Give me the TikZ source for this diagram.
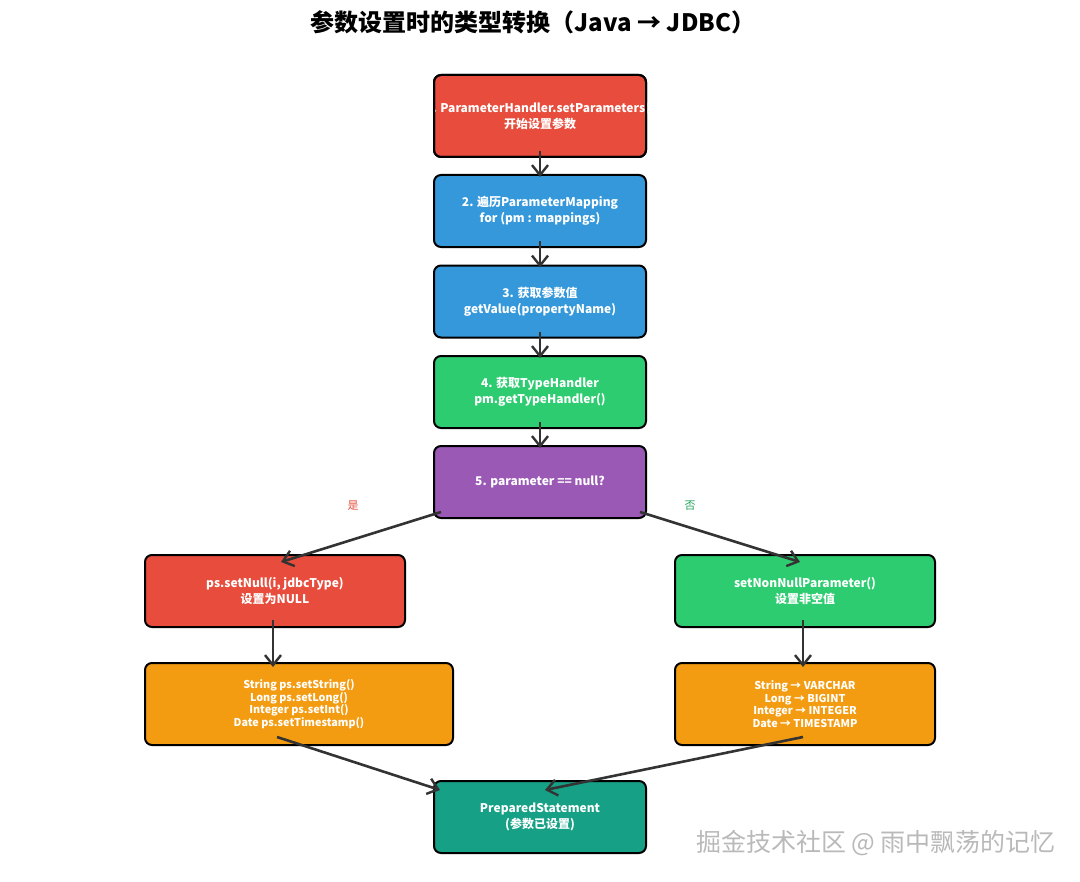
\documentclass[tikz,border=0pt]{standalone}
\usepackage{fontspec}
\setmainfont{Noto Sans CJK SC}
\usetikzlibrary{arrows.meta}
\definecolor{cred}{HTML}{E74C3C}
\definecolor{cblue}{HTML}{3498DB}
\definecolor{cgreen}{HTML}{2ECC71}
\definecolor{cpurple}{HTML}{9B59B6}
\definecolor{corange}{HTML}{F39C12}
\definecolor{cteal}{HTML}{16A085}
\definecolor{cline}{HTML}{333333}
\begin{document}
\begin{tikzpicture}[x=0.5pt,y=-0.5pt,
  box/.style={draw=black,line width=1pt,rounded corners=3.5pt,text=white,align=center,inner sep=0pt,outer sep=0pt,
    minimum width=106pt,minimum height=36pt,font=\fontsize{6}{8}\selectfont\bfseries},
  small/.style={font=\fontsize{5.4}{6.4}\selectfont\bfseries},
  flow/.style={-{Straight Barb[length=5pt,width=8pt,line width=1.2pt]},draw=cline,line width=1.3pt},
  yesno/.style={font=\fontsize{5.5}{6}\selectfont}]
\useasboundingbox (0,0) rectangle (1080,882);
\node[font=\fontsize{12}{14}\selectfont\bfseries] (title) at (533,22) {参数设置时的类型转换（Java → JDBC）};
% main column
\node[box,fill=cred,minimum height=41pt] (start) at (540,116) {\makebox[0pt]{1. ParameterHandler.setParameters()}\\开始设置参数};
\draw[line width=1pt,rounded corners=3.5pt] (start.south west) rectangle (start.north east);
\node[box,fill=cblue] (loop) at (540,211) {2. 遍历ParameterMapping\\for (pm : mappings)};
\node[box,fill=cblue] (value) at (540,301.5) {3. 获取参数值\\getValue(propertyName)};
\node[box,fill=cgreen] (handler) at (540,392) {4. 获取TypeHandler\\pm.getTypeHandler()};
\node[box,fill=cpurple] (check) at (540,482) {5. parameter == null?};
% branches
\node[box,fill=cred,minimum width=130pt] (setnull) at (275,591) {ps.setNull(i, jdbcType)\\设置为NULL};
\node[box,fill=cgreen,minimum width=130pt] (nonnull) at (805,591) {setNonNullParameter()\\设置非空值};
\node[box,small,fill=corange,minimum width=154pt,minimum height=41pt] (setters) at (299,704)
  {String ps.setString()\\Long ps.setLong()\\Integer ps.setInt()\\Date ps.setTimestamp()};
\node[box,small,fill=corange,minimum width=130pt,minimum height=41pt] (mapping) at (805,704)
  {String → VARCHAR\\Long → BIGINT\\Integer → INTEGER\\Date → TIMESTAMP};
\node[box,fill=cteal] (stmt) at (540,817) {PreparedStatement\\(参数已设置)};
\node[yesno,text=cred] (yes) at (353,506) {是};
\node[yesno,text=cgreen!80!black] (no) at (690,506) {否};
\node[font=\fontsize{12.5}{14}\selectfont,text=gray!55] (mark) at (876,843) {掘金技术社区 @ 雨中飘荡的记忆};
% connectors
\draw[flow] ([yshift=3pt]start.south) -- ([yshift=-1pt]loop.north);
\draw[flow] ([yshift=3pt]loop.south) -- ([yshift=-1pt]value.north);
\draw[flow] ([yshift=3pt]value.south) -- ([yshift=-1pt]handler.north);
\draw[flow] ([yshift=3pt]handler.south) -- ([yshift=-1pt]check.north);
\draw[flow] ([xshift=3.5pt,yshift=3pt]check.south west) -- ([xshift=3pt,yshift=-3.5pt]setnull.north);
\draw[flow] ([xshift=-3pt,yshift=3pt]check.south east) -- ([xshift=-2.5pt,yshift=-3.5pt]nonnull.north);
\draw[flow] ([xshift=-1pt,yshift=3.5pt]setnull.south) -- ([xshift=-13pt,yshift=-2pt]setters.north);
\draw[flow] ([xshift=-1pt,yshift=3.5pt]nonnull.south) -- ([xshift=-1pt,yshift=-2pt]mapping.north);
\draw[flow] ([xshift=-11pt,yshift=4pt]setters.south) -- ([xshift=3pt,yshift=-4.5pt]stmt.north west);
\draw[flow] ([xshift=-1pt,yshift=4pt]mapping.south) -- ([xshift=2.5pt,yshift=-4.5pt]stmt.north);
\end{tikzpicture}
\end{document}
